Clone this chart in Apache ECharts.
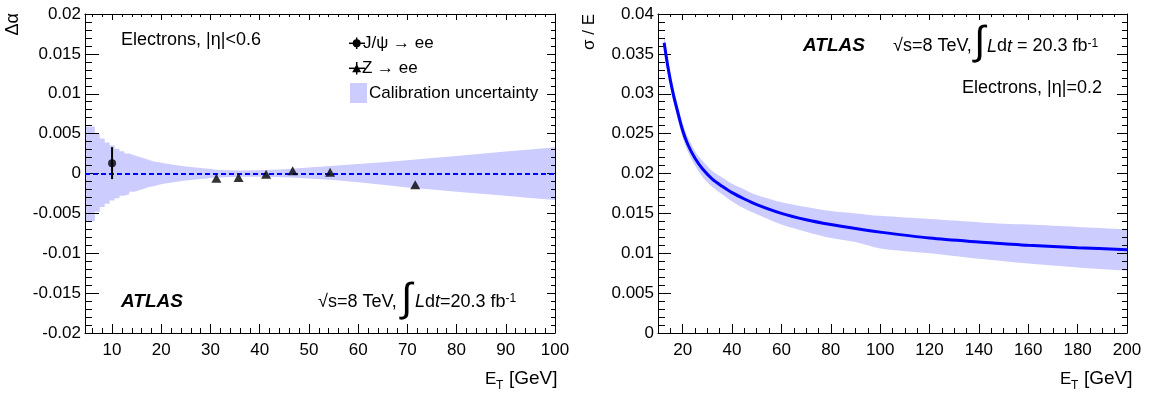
<!DOCTYPE html>
<html><head><meta charset="utf-8">
<script src="https://cdn.jsdelivr.net/npm/echarts@6/dist/echarts.min.js"></script>
<style>html,body{margin:0;padding:0;background:#fff}#c{width:1151px;height:395px}</style>
</head><body><div id="c"></div>
<script>
// ---------- data ----------
const jpsiE = [10];
const jpsiVal = [0.0013];
const jpsiErr = [0.002];

const zE = [31.2, 35.7, 41.3, 46.7, 54.3, 71.6];
const zVal = [-0.0006, -0.0005, -0.0001, 0.00035, 0.00015, -0.0014];

// calibration uncertainty band, low-E histogram part (bin low edges, 1 GeV bins)
const calibLowE  = [4.5, 5.5, 6.5, 7.5, 8.5, 9.5, 10.5, 11.5, 12.5, 13.5, 14.5, 15.5, 16.5, 17.5, 18.5, 19.5, 20.5, 21.5, 22.5, 23.5, 24.5, 25.5, 26.5, 27.5, 28.5, 29.5, 30.5];
const calibLowUp = [0.0059, 0.0059, 0.0050, 0.0044, 0.0039, 0.0035, 0.0031, 0.0028, 0.0025, 0.0023, 0.0021, 0.0019, 0.0017, 0.0015, 0.0014, 0.0013, 0.0012, 0.0011, 0.0010, 0.00092, 0.00085, 0.00078, 0.00071, 0.00065, 0.00060, 0.00055, 0.00050];
const calibLowDn = [-0.0060, -0.0060, -0.0048, -0.0042, -0.0038, -0.0034, -0.0031, -0.0028, -0.0026, -0.0023, -0.0021, -0.0019, -0.0017, -0.0016, -0.0014, -0.0013, -0.0012, -0.0011, -0.0010, -0.00092, -0.00085, -0.00078, -0.00072, -0.00067, -0.00062, -0.00058, -0.00054];
// calibration uncertainty band, high-E part
const calibHighE  = [29.5, 30.5, 33, 36, 40, 45, 50, 55, 60, 65, 70, 75, 80, 85, 90, 95, 100];
const calibHighUp = [0.00055, 0.00050, 0.00042, 0.00037, 0.00040, 0.00052, 0.00075, 0.00098, 0.00120, 0.00142, 0.00165, 0.00193, 0.00220, 0.00248, 0.00275, 0.00302, 0.00330];
const calibHighDn = [-0.00058, -0.00054, -0.00047, -0.00042, -0.00042, -0.00047, -0.00062, -0.00082, -0.00110, -0.00140, -0.00175, -0.00202, -0.00228, -0.00254, -0.00280, -0.00306, -0.00332];

// resolution sigma/E vs E_T
const resE   = [12.5, 14, 16, 18, 20, 22, 25, 28, 32, 36, 40, 45, 50, 60, 70, 80, 90, 100, 120, 140, 150, 160, 180, 200];
const resVal = [0.0364, 0.0334, 0.0302, 0.0277, 0.0254, 0.0237, 0.0219, 0.0206, 0.0193, 0.0184, 0.0176, 0.0168, 0.0161, 0.0150, 0.0142, 0.0136, 0.0131, 0.01265, 0.0119, 0.0114, 0.0112, 0.0110, 0.0107, 0.01043];
const resUp  = [0.0376, 0.0344, 0.0311, 0.0286, 0.0263, 0.0246, 0.0228, 0.0216, 0.0203, 0.0195, 0.0187, 0.0180, 0.0173, 0.0164, 0.0158, 0.0153, 0.0150, 0.0147, 0.0143, 0.0139, 0.0137, 0.0136, 0.0133, 0.0130];
const resDn  = [0.0352, 0.0324, 0.0293, 0.0268, 0.0245, 0.0228, 0.0210, 0.0196, 0.0183, 0.0174, 0.0165, 0.0156, 0.0149, 0.0136, 0.0127, 0.0119, 0.0114, 0.0106, 0.0100, 0.0093, 0.0090, 0.0087, 0.0082, 0.0078];

// ---------- helpers ----------
const FF = 'Liberation Sans, Arial, Helvetica, sans-serif';
const BAND = '#ccccff';
const pairs = (xs, ys) => xs.map((x, i) => [x, ys[i]]);

function xAx(grid, min, max, split, opt) {
  return Object.assign({
    gridIndex: grid, type: 'value', min: min, max: max, splitNumber: split,
    axisLine: {show: true, onZero: false, lineStyle: {color: '#000', width: 1}},
    axisTick: {show: true, inside: true, length: 9, lineStyle: {color: '#000', width: 1}},
    axisLabel: {show: false},
    splitLine: {show: false}
  }, opt);
}
function yAx(grid, min, max, opt) {
  return Object.assign({
    gridIndex: grid, type: 'value', min: min, max: max, interval: 0.005,
    axisLine: {show: true, onZero: false, lineStyle: {color: '#000', width: 1}},
    axisTick: {show: true, inside: true, length: 14, lineStyle: {color: '#000', width: 1}},
    minorTick: {show: true, splitNumber: 5, length: 7, lineStyle: {color: '#000', width: 1}},
    axisLabel: {show: false},
    splitLine: {show: false}
  }, opt);
}
const tickLabel = {show: true, fontFamily: FF, fontSize: 17, color: '#000'};

function T(text, x, y, o) {
  o = Object.assign({}, o || {});
  const rot = o.rot; delete o.rot;
  const el = {type: 'text', x: x, y: y, silent: true, z: 100,
    style: Object.assign({text: text, fontFamily: FF, fontSize: 18, fill: '#000', align: 'left', verticalAlign: 'middle'}, o)};
  if (rot) el.rotation = rot;
  return el;
}
const lumiRich = {
  i: {fontStyle: 'italic', fontSize: 18, fontFamily: FF, fill: '#000'},
  sup: {fontSize: 12, fontFamily: FF, fill: '#000', verticalAlign: 'top'}
};

// band as two areas: upper filled down to axis min with band colour, lower filled with white (both below the axes)
function bandSeries(xi, yi, xs, up, dn, extra) {
  const base = {type: 'line', xAxisIndex: xi, yAxisIndex: yi, symbol: 'none', silent: true,
    lineStyle: {opacity: 0}, emphasis: {disabled: true}};
  return [
    Object.assign({}, base, extra, {data: pairs(xs, up), areaStyle: {color: BAND, opacity: 1, origin: 'start'}, z: -3}),
    Object.assign({}, base, extra, {data: pairs(xs, dn), areaStyle: {color: '#ffffff', opacity: 1, origin: 'start'}, z: -2})
  ];
}

const chart = echarts.init(document.getElementById('c'), null, {renderer: 'canvas'});
chart.setOption({
  animation: false,
  backgroundColor: '#fff',
  grid: [
    {left: 85, top: 14, width: 470, height: 319},
    {left: 658, top: 14, width: 469, height: 319}
  ],
  xAxis: [
    xAx(0, 4.5, 100, 10, {position: 'bottom', axisLabel: Object.assign({margin: 9, showMinLabel: false}, tickLabel)}),
    xAx(0, 4.5, 100, 48, {position: 'bottom', axisLine: {show: false, onZero: false}, axisTick: {show: true, inside: true, length: 5, lineStyle: {color: '#000'}}}),
    xAx(0, 4.5, 100, 10, {position: 'top', axisTick: {show: true, inside: true, length: 6, lineStyle: {color: '#000'}}}),
    xAx(0, 4.5, 100, 48, {position: 'top', axisLine: {show: false, onZero: false}, axisTick: {show: true, inside: true, length: 3, lineStyle: {color: '#000'}}}),
    xAx(1, 10, 200, 10, {position: 'bottom', axisLabel: Object.assign({margin: 9, showMinLabel: false}, tickLabel)}),
    xAx(1, 10, 200, 38, {position: 'bottom', axisLine: {show: false, onZero: false}, axisTick: {show: true, inside: true, length: 5, lineStyle: {color: '#000'}}}),
    xAx(1, 10, 200, 10, {position: 'top', axisTick: {show: true, inside: true, length: 6, lineStyle: {color: '#000'}}}),
    xAx(1, 10, 200, 38, {position: 'top', axisLine: {show: false, onZero: false}, axisTick: {show: true, inside: true, length: 3, lineStyle: {color: '#000'}}})
  ],
  yAxis: [
    yAx(0, -0.02, 0.02, {position: 'left', axisLabel: Object.assign({margin: 4}, tickLabel)}),
    yAx(0, -0.02, 0.02, {position: 'right',
      axisTick: {show: true, inside: true, length: 8, lineStyle: {color: '#000'}},
      minorTick: {show: true, splitNumber: 5, length: 4, lineStyle: {color: '#000'}}}),
    yAx(1, 0, 0.04, {position: 'left', axisTick: {show: true, inside: true, length: 13, lineStyle: {color: '#000', width: 1}}, axisLabel: Object.assign({margin: 4}, tickLabel)}),
    yAx(1, 0, 0.04, {position: 'right',
      axisTick: {show: true, inside: true, length: 10, lineStyle: {color: '#000'}},
      minorTick: {show: true, splitNumber: 5, length: 5, lineStyle: {color: '#000'}}})
  ],
  series: [].concat(
    bandSeries(0, 0, calibLowE, calibLowUp, calibLowDn, {step: 'end'}),
    bandSeries(0, 0, calibHighE, calibHighUp, calibHighDn, {}),
    bandSeries(4, 2, resE, resUp, resDn, {smooth: 0.3}),
    [
    // J/psi error bar
    {type: 'custom', xAxisIndex: 0, yAxisIndex: 0, z: 4, silent: true,
     data: jpsiE.map((e, i) => [e, jpsiVal[i], jpsiErr[i]]),
     renderItem: function (params, api) {
       const x = api.value(0), y = api.value(1), err = api.value(2);
       const a = api.coord([x, y + err]), b = api.coord([x, y - err]);
       return {type: 'line', shape: {x1: a[0], y1: a[1], x2: b[0], y2: b[1]}, style: {stroke: '#000', lineWidth: 2}};
     }},
    {type: 'scatter', name: 'J/ψ → ee', xAxisIndex: 0, yAxisIndex: 0, z: 5, silent: true,
     data: pairs(jpsiE, jpsiVal), symbol: 'circle', symbolSize: 8, itemStyle: {color: '#000'}},
    {type: 'scatter', name: 'Z → ee', xAxisIndex: 0, yAxisIndex: 0, z: 5, silent: true,
     data: pairs(zE, zVal), symbol: 'triangle', symbolSize: [10, 9], itemStyle: {color: '#000'},
     markLine: {silent: true, symbol: 'none', z: 3, label: {show: false},
       lineStyle: {color: '#0000ff', type: [5, 3], width: 2},
       data: [{yAxis: 0}]}},
    {type: 'line', xAxisIndex: 4, yAxisIndex: 2, smooth: 0.3, data: pairs(resE, resVal),
     symbol: 'none', lineStyle: {color: '#0000ff', width: 3}, silent: true, z: 3}
  ]),
  graphic: {elements: [
    // axis titles
    T('Δα', 4, 13, {align: 'right', verticalAlign: 'top', rot: Math.PI / 2}),
    T('σ / E', 581, 14, {align: 'right', verticalAlign: 'top', rot: Math.PI / 2, fontSize: 17}),
    T('E', 485, 379, {fontSize: 17}),
    T('T', 496, 386, {fontSize: 12}),
    T('[GeV]', 509, 379, {fontSize: 19}),
    T('E', 1060, 379, {fontSize: 17}),
    T('T', 1071, 386, {fontSize: 12}),
    T('[GeV]', 1084, 379, {fontSize: 19}),
    // left panel labels
    T('Electrons, |η|<0.6', 121, 40),
    T('ATLAS', 121, 302, {fontWeight: 'bold', fontStyle: 'italic', fontSize: 19}),
    T('√s=8 TeV,', 318, 302),
    T('∫', 401, 300, {fontSize: 40}),
    T('{i|L}d{i|t}=20.3 fb{sup|-1}', 415, 302, {rich: lumiRich}),
    // legend
    {type: 'line', silent: true, z: 100, shape: {x1: 349, y1: 43.3, x2: 365, y2: 43.3}, style: {stroke: '#000', lineWidth: 1.5}},
    {type: 'line', silent: true, z: 100, shape: {x1: 356.7, y1: 37.5, x2: 356.7, y2: 49}, style: {stroke: '#000', lineWidth: 1.5}},
    {type: 'circle', silent: true, z: 101, shape: {cx: 356.7, cy: 43.3, r: 4}, style: {fill: '#000'}},
    {type: 'line', silent: true, z: 100, shape: {x1: 349, y1: 68.3, x2: 365, y2: 68.3}, style: {stroke: '#000', lineWidth: 1.5}},
    {type: 'line', silent: true, z: 100, shape: {x1: 356.7, y1: 62, x2: 356.7, y2: 74.5}, style: {stroke: '#000', lineWidth: 1.5}},
    {type: 'polygon', silent: true, z: 101, shape: {points: [[352.2, 72.3], [361.2, 72.3], [356.7, 64.3]]}, style: {fill: '#000'}},
    {type: 'rect', silent: true, z: 100, shape: {x: 350, y: 83, width: 17, height: 20}, style: {fill: BAND}},
    T('J/ψ → ee', 363, 43.3, {fontSize: 17}),
    T('Z → ee', 362, 68.3, {fontSize: 17}),
    T('Calibration uncertainty', 369, 93, {fontSize: 17}),
    // right panel labels
    T('ATLAS', 803, 45.5, {fontWeight: 'bold', fontStyle: 'italic', fontSize: 19}),
    T('√s=8 TeV,', 893, 46.5),
    T('∫', 974, 43, {fontSize: 40}),
    T('{i|L}d{i|t} = 20.3 fb{sup|-1}', 987, 46.5, {rich: lumiRich}),
    T('Electrons, |η|=0.2', 1102, 88, {align: 'right'})
  ]}
});
</script>
</body></html>
